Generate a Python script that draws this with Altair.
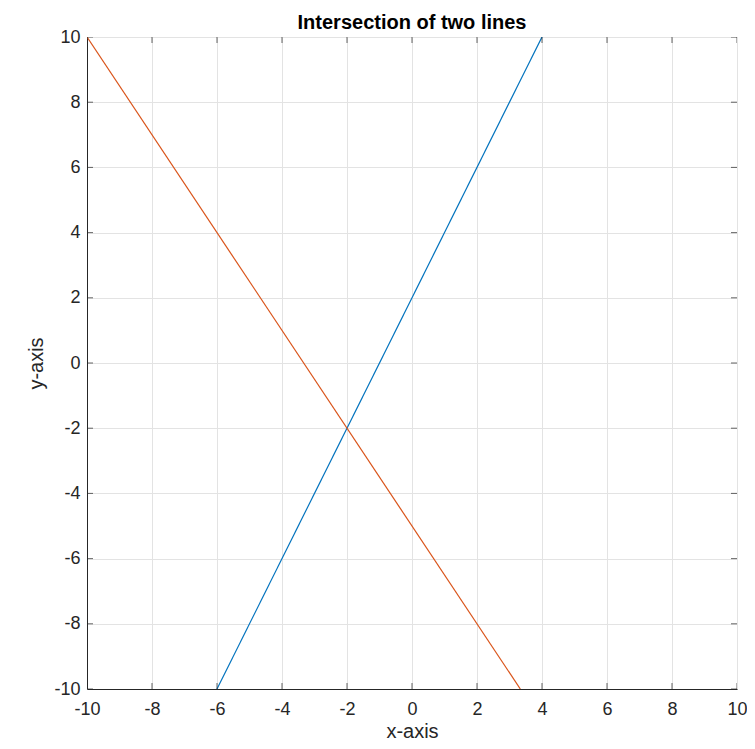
import altair as alt
import pandas as pd

# Line endpoints (clipped to the axes box)
blue_x = [-6, 4]
blue_y = [-10, 10]
orange_x = [-10, 3.333]
orange_y = [10, -10]
tick_values = [-10, -8, -6, -4, -2, 0, 2, 4, 6, 8, 10]

lines = pd.DataFrame({
    "x": blue_x + orange_x,
    "y": blue_y + orange_y,
    "series": ["blue"] * len(blue_x) + ["orange"] * len(orange_x),
})
ticks = pd.DataFrame({"v": tick_values})

FONT = "Liberation Sans"
xs = alt.Scale(domain=[-10, 10], nice=False, zero=False)
ys = alt.Scale(domain=[-10, 10], nice=False, zero=False)

xaxis = alt.Axis(values=tick_values, title="x-axis", grid=True, gridColor="#e3e3e3",
                 domain=True, domainColor="#262626", tickSize=0, labelPadding=11,
                 labelFlush=False, labelExpr="toString(datum.value)",
                 labelFont=FONT, labelFontSize=18, labelColor="#262626",
                 titleFont=FONT, titleFontSize=20, titleFontWeight="normal",
                 titleColor="#262626", titleBaseline="alphabetic", titlePadding=19)
yaxis = alt.Axis(values=tick_values, title="y-axis", grid=True, gridColor="#e3e3e3",
                 domain=True, domainColor="#262626", tickSize=0, labelPadding=7,
                 labelFlush=False, labelExpr="toString(datum.value)",
                 labelFont=FONT, labelFontSize=18, labelColor="#262626",
                 titleFont=FONT, titleFontSize=20, titleFontWeight="normal",
                 titleColor="#262626", titlePadding=7)

base_lines = alt.Chart(lines).mark_line(strokeWidth=1.2, clip=True).encode(
    x=alt.X("x:Q", scale=xs, axis=xaxis),
    y=alt.Y("y:Q", scale=ys, axis=yaxis),
    color=alt.Color("series:N", scale=alt.Scale(domain=["blue", "orange"],
                                                range=["#0072BD", "#D95319"]), legend=None),
    detail="series:N",
)

tick_style = dict(clip=True, color="#262626", thickness=1, size=12)
bottom = alt.Chart(ticks).mark_tick(orient="vertical", **tick_style).encode(
    x=alt.X("v:Q", scale=xs), y=alt.datum(-10, scale=ys))
top = alt.Chart(ticks).mark_tick(orient="vertical", **tick_style).encode(
    x=alt.X("v:Q", scale=xs), y=alt.datum(10, scale=ys))
left = alt.Chart(ticks).mark_tick(orient="horizontal", **tick_style).encode(
    y=alt.Y("v:Q", scale=ys), x=alt.datum(-10, scale=xs))
right = alt.Chart(ticks).mark_tick(orient="horizontal", **tick_style).encode(
    y=alt.Y("v:Q", scale=ys), x=alt.datum(10, scale=xs))

chart = alt.layer(base_lines, bottom, top, left, right).properties(
    width=650, height=652,
    title=alt.TitleParams("Intersection of two lines", font=FONT, fontSize=20,
                          fontWeight="bold", color="#000000", anchor="middle",
                          offset=0, dy=5),
    padding={"left": 79, "top": 29, "right": 10, "bottom": 52},
    autosize="none",
).configure_view(stroke="#262626", strokeWidth=1).configure(background="white")

chart.save("out.html", embed_options={"renderer": "svg", "actions": False})
